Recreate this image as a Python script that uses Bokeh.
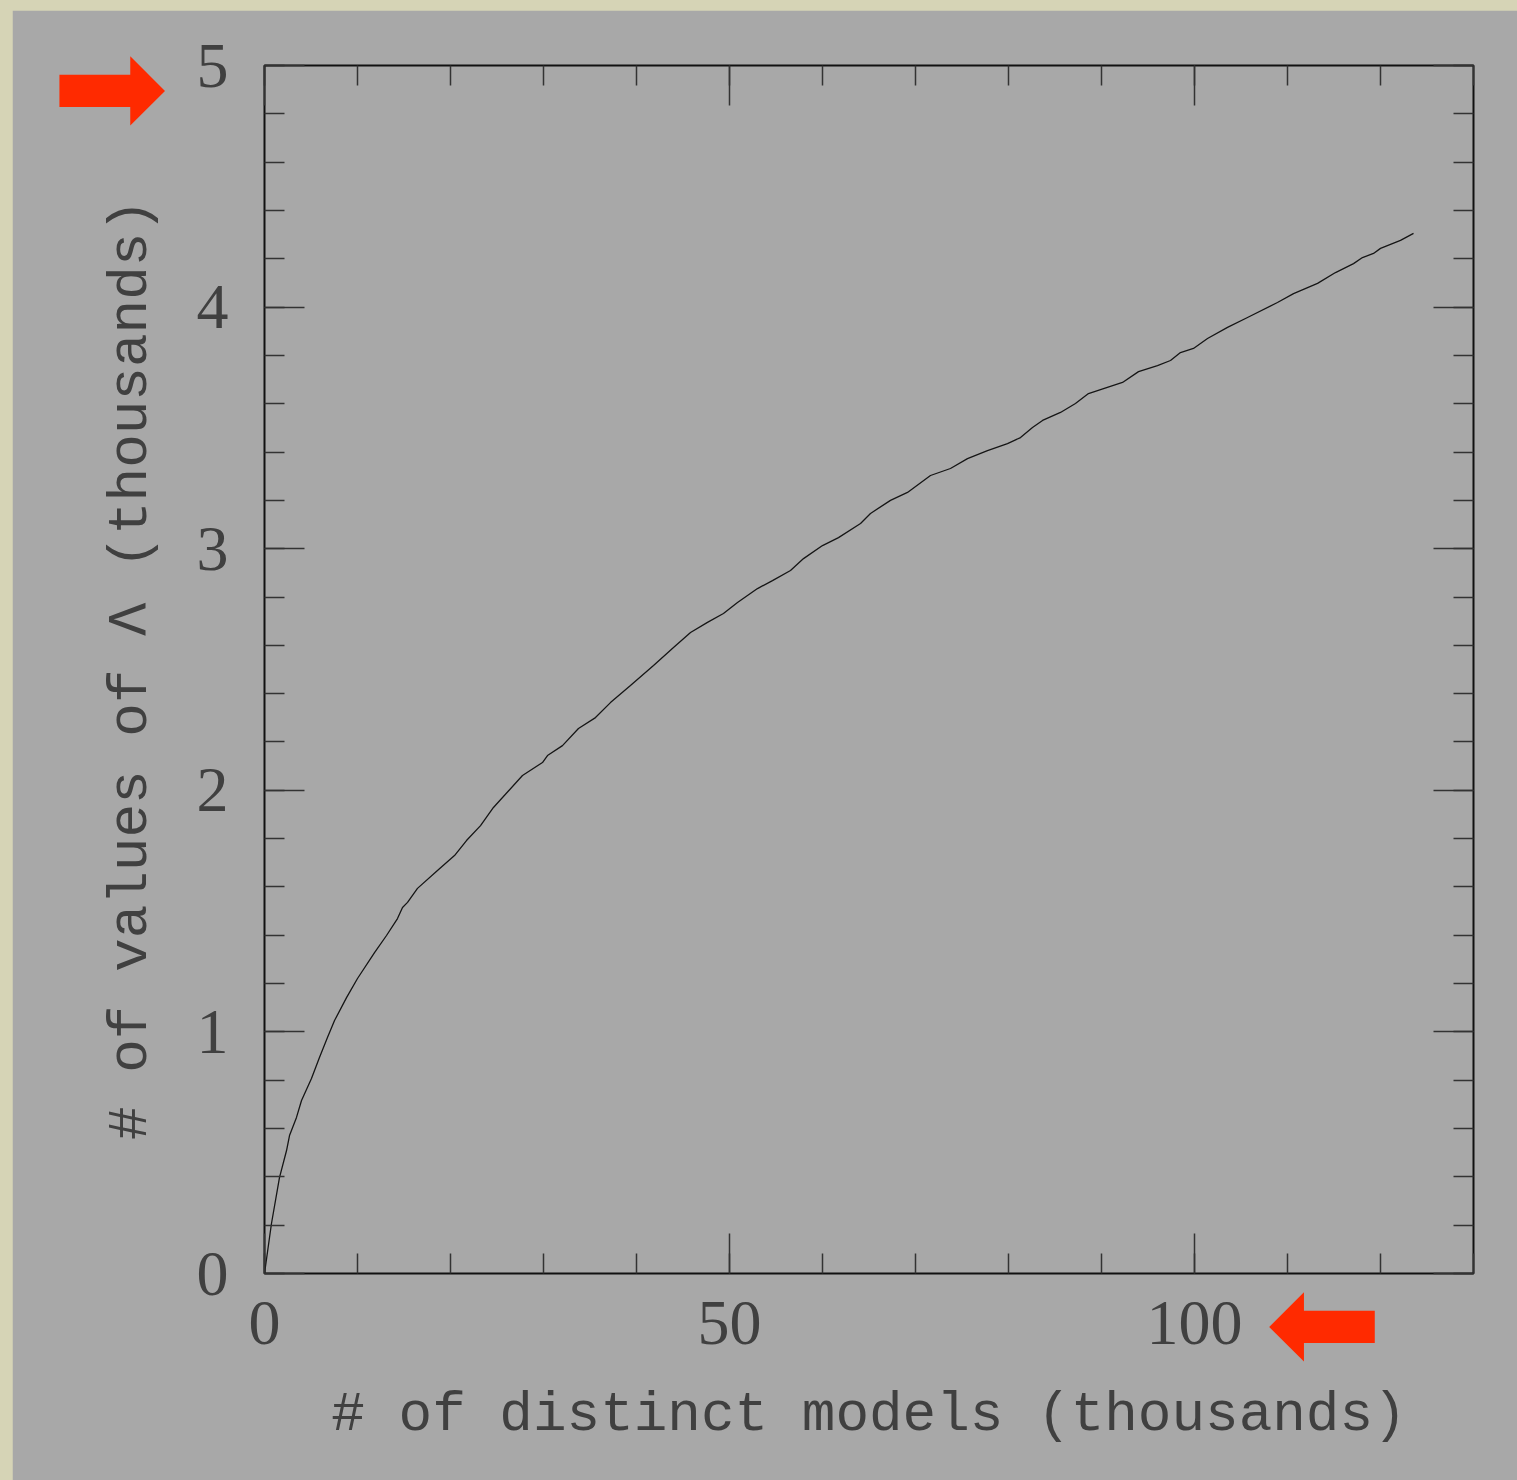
import math
from bokeh.plotting import figure
from bokeh.models import (LinearAxis, SingleIntervalTicker, FixedTicker, Range1d,
                          CustomJSTickFormatter)
from bokeh.layouts import column
from bokeh.embed import file_html
from bokeh.resources import INLINE

# ---- data (thousands) ----
models_k = [0, 0.75, 1.61, 2.37, 2.69, 3.44, 3.98, 5.05, 5.91, 6.77, 7.53, 8.82, 10.0,
            11.83, 13.12, 14.30, 14.84, 15.38, 16.45, 18.60, 20.43, 21.72, 23.23, 24.62,
            27.74, 29.89, 30.43, 32.04, 33.76, 35.59, 37.20, 39.35, 41.83, 43.98, 45.81,
            47.63, 49.35, 50.86, 53.01, 54.62, 56.56, 57.96, 60.00, 61.72, 64.09, 65.16,
            67.31, 69.14, 71.61, 73.76, 75.59, 77.74, 79.89, 81.29, 82.58, 83.66, 85.59,
            87.20, 88.60, 90.22, 92.26, 93.98, 96.02, 97.42, 98.49, 99.89, 101.40, 103.55,
            105.70, 108.92, 110.65, 113.23, 115.16, 117.10, 118.06, 119.25, 120.00, 122.15,
            123.55]
lambda_k = [0, 0.207, 0.397, 0.509, 0.571, 0.646, 0.716, 0.807, 0.894, 0.977, 1.047, 1.142,
            1.221, 1.328, 1.399, 1.469, 1.515, 1.536, 1.594, 1.668, 1.730, 1.792, 1.854,
            1.929, 2.061, 2.115, 2.144, 2.185, 2.256, 2.301, 2.363, 2.434, 2.517, 2.591,
            2.653, 2.695, 2.732, 2.777, 2.835, 2.868, 2.910, 2.959, 3.013, 3.046, 3.104,
            3.146, 3.200, 3.233, 3.303, 3.332, 3.373, 3.406, 3.435, 3.460, 3.502, 3.531,
            3.564, 3.601, 3.642, 3.663, 3.688, 3.733, 3.758, 3.779, 3.812, 3.829, 3.870,
            3.916, 3.957, 4.019, 4.056, 4.098, 4.143, 4.180, 4.205, 4.222, 4.243, 4.276,
            4.305]

x_label = "# of distinct models (thousands)"
y_label = "# of values of \u039b (thousands)"
right_arrow = "\u27a1"
left_arrow = "\u2b05"
# tick values the red arrows point at
y_marked = 5
x_marked = 100

PANEL = "#a8a8a8"
PAGE_BG = "#d6d4b6"
TXT = "#404040"
RED = "#ff2a00"
MONO = "Liberation Mono"
SERIF = "Liberation Serif"

FW, FH = 1209, 1208
X_END, Y_END = 130, 5
XS = FW / X_END
YS = FH / Y_END

p = figure(frame_width=FW, frame_height=FH, output_backend="svg", toolbar_location=None,
           x_range=Range1d(0, X_END), y_range=Range1d(0, Y_END),
           x_axis_location=None, y_axis_location=None,
           min_border_left=252, min_border_right=44, min_border_top=55, min_border_bottom=207)
p.margin = (10, 0, 0, 12)
p.background_fill_color = PANEL
p.border_fill_color = PANEL
p.outline_line_color = "#111111"
p.outline_line_width = 2
p.xgrid.visible = False
p.ygrid.visible = False


def style_ticks(ax):
    ax.axis_line_color = None
    ax.major_tick_in = 40
    ax.major_tick_out = 0
    ax.minor_tick_in = 20
    ax.minor_tick_out = 0
    ax.major_tick_line_color = "#333333"
    ax.minor_tick_line_color = "#333333"
    ax.major_tick_line_width = 1.5
    ax.minor_tick_line_width = 1.5


def style_numbers(ax):
    ax.major_label_text_font = SERIF
    ax.major_label_text_font_size = "64px"
    ax.major_label_text_color = TXT


def hide_labels(ax):
    ax.major_label_text_color = None
    ax.major_label_text_font_size = "1px"
    ax.major_label_standoff = 0


def arrow_axis(tick, glyph, title):
    ax = LinearAxis(ticker=FixedTicker(ticks=[tick]),
                    formatter=CustomJSTickFormatter(code="return '%s'" % glyph),
                    axis_label=title)
    ax.axis_line_color = None
    ax.major_tick_line_color = None
    ax.minor_tick_line_color = None
    ax.major_tick_in = 0
    ax.major_tick_out = 0
    ax.major_label_text_color = RED
    ax.major_label_text_font = "DejaVu Sans"
    ax.major_label_text_font_size = "140px"
    ax.major_label_orientation = math.pi
    ax.axis_label_text_font = MONO
    ax.axis_label_text_font_size = "56px"
    ax.axis_label_text_font_style = "normal"
    ax.axis_label_text_color = TXT
    return ax


xt = SingleIntervalTicker(interval=50, num_minor_ticks=5)
yt = SingleIntervalTicker(interval=1, num_minor_ticks=5)

# bottom: numbers, then arrow row + title
xb = LinearAxis(ticker=xt)
style_ticks(xb)
style_numbers(xb)
xb.major_label_standoff = 28
p.add_layout(xb, "below")

xb2 = arrow_axis(x_marked + 71 / XS, right_arrow, x_label)
xb2.major_label_standoff = -15
xb2.axis_label_standoff = -115
p.add_layout(xb2, "below")

xa = LinearAxis(ticker=xt)
style_ticks(xa)
hide_labels(xa)
p.add_layout(xa, "above")

# left: numbers, then arrow + title
yl = LinearAxis(ticker=yt)
style_ticks(yl)
style_numbers(yl)
yl.major_label_standoff = 36
p.add_layout(yl, "left")

yl2 = arrow_axis(y_marked - 23 / YS, left_arrow, y_label)
yl2.major_label_standoff = 142
yl2.axis_label_standoff = -232
p.add_layout(yl2, "left")

yr = LinearAxis(ticker=yt)
style_ticks(yr)
hide_labels(yr)
p.add_layout(yr, "right")

p.line(models_k, lambda_k, line_color="#151515", line_width=1.3)

layout = column(p, styles={"background-color": PAGE_BG})
open("out.html", "w").write(file_html(layout, INLINE))
